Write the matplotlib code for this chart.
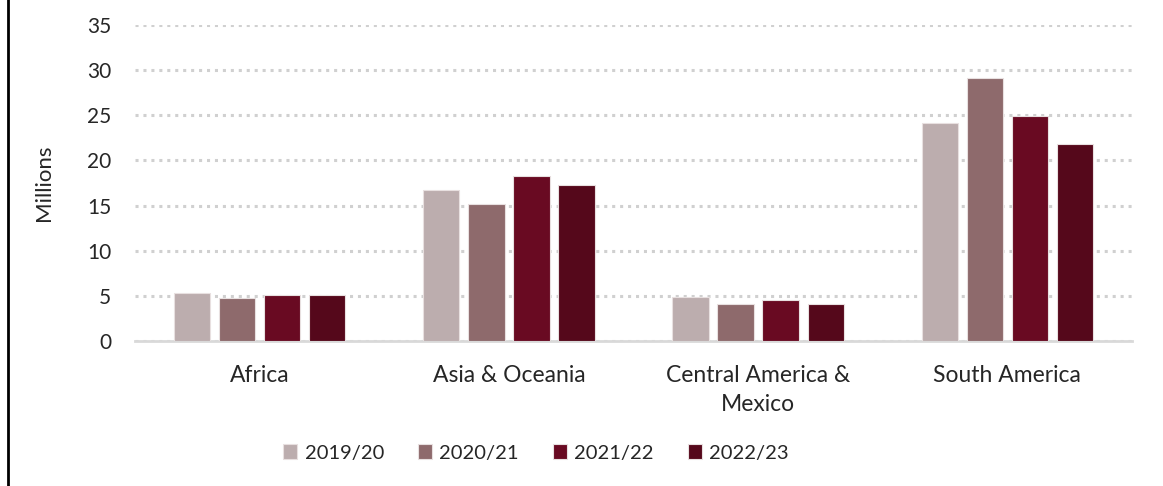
import matplotlib
matplotlib.use("Agg")
import matplotlib.pyplot as plt
from matplotlib.lines import Line2D
import numpy as np

categories = ["Africa", "Asia & Oceania", "Central America &\nMexico", "South America"]
seasons = ["2019/20", "2020/21", "2021/22", "2022/23"]
values = {
    "2019/20": [5.35, 16.7, 4.9, 24.1],
    "2020/21": [4.8, 15.2, 4.1, 29.1],
    "2021/22": [5.1, 18.3, 4.5, 24.95],
    "2022/23": [5.1, 17.3, 4.1, 21.8],
}
colors = ["#BCADAE", "#8E6A6C", "#690A22", "#55081B"]
yticks = [0, 5, 10, 15, 20, 25, 30, 35]

plt.rcParams['font.family'] = ['Lato', 'DejaVu Sans']
fig = plt.figure(figsize=(11.63, 4.86), dpi=100)
ax = fig.add_axes([135/1163, 1-341/486, (1132-135)/1163, (341-25)/486])

x = np.arange(len(categories))
step = 0.181
bw = 0.146
for i, s in enumerate(seasons):
    ax.bar(x + (i - 1.5) * step, values[s], width=bw, color=colors[i],
           edgecolor="#E8E0E0", linewidth=0.8, label=s, zorder=3)

ax.set_xlim(-0.5, 3.5)
ax.set_ylim(0, 35)
ax.set_yticks(yticks)
ax.set_xticks(x)
ax.set_xticklabels(categories, fontsize=16.5, color="#262626", linespacing=1.45)
ax.tick_params(axis='y', labelsize=15, labelcolor="#262626", length=0, pad=17)
ax.tick_params(axis='x', length=0, pad=17.5)
ax.yaxis.grid(True, color="#D0D0D0", linestyle=(0, (1, 1.6)), linewidth=2.2, zorder=0)
ax.set_axisbelow(True)
for sp in ["top", "right", "left"]:
    ax.spines[sp].set_visible(False)
ax.spines["bottom"].set_color("#D9D9D9")
ax.spines["bottom"].set_linewidth(2)
ax.set_ylabel("Millions", fontsize=16, color="#262626", labelpad=24)

ax.legend(loc="center", bbox_to_anchor=(536/1163, 1-453/486), bbox_transform=fig.transFigure,
          ncol=4, frameon=False, fontsize=14.5, handlelength=0.7, handleheight=0.7,
          handletextpad=0.35, columnspacing=1.7, labelcolor="#262626")

fig.add_artist(Line2D([8/1163, 8/1163], [0, 1], color="black", linewidth=2, transform=fig.transFigure))

fig.savefig("out.png", dpi=100)
